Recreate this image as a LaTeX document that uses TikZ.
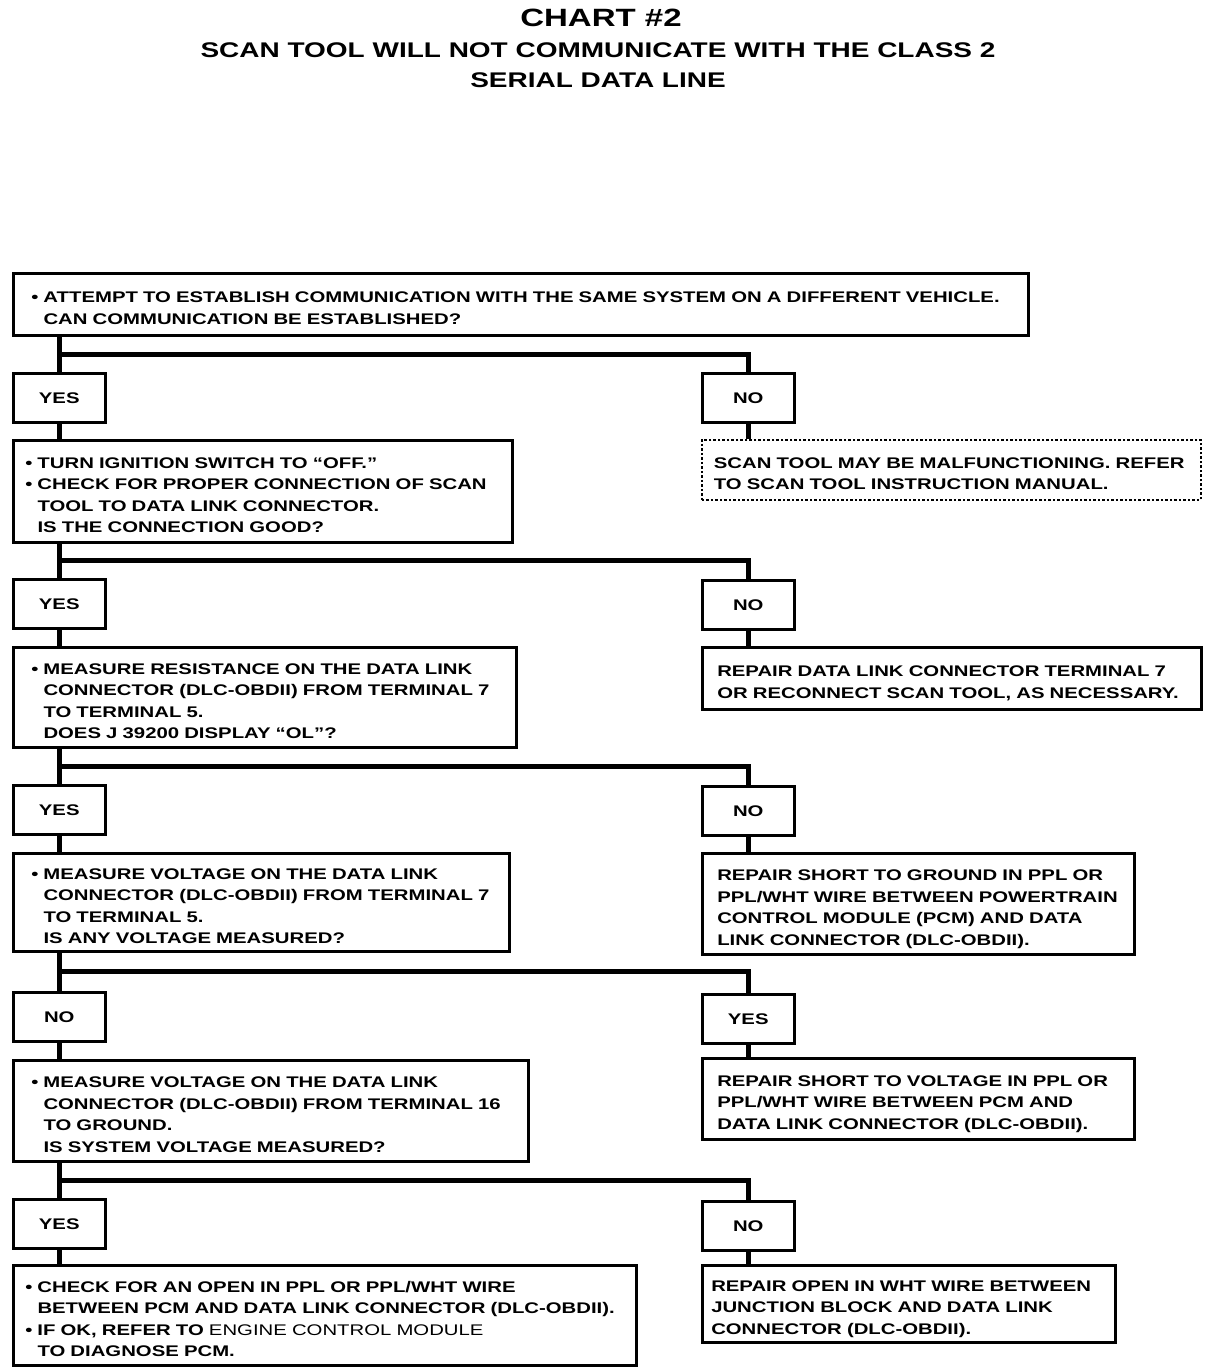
\documentclass[tikz,border=0pt]{standalone}
\usepackage{fontspec}
\usetikzlibrary{calc}
\newfontfamily\chartfont[FakeStretch=1.32]{Liberation Sans}
\newcommand\bul{\textbullet\ }
\newcommand\ind{\hphantom{\bul}}
\tikzset{
	box/.style={draw, line width=1.25pt, anchor=north west, align=left, inner ysep=0pt,
		font=\chartfont\bfseries\fontsize{7.7}{10.75}\selectfont,
		execute at begin node={\rule{0pt}{11pt}}, execute at end node={\rule[-2pt]{0pt}{2pt}}},
	boxsize/.style n args={3}{text width={(#1-2*#3)*0.5pt}, inner xsep={#3*0.5pt}, minimum height={#2*0.5pt}},
	answer/.style={draw, line width=1.25pt, anchor=north west, minimum width=46pt, minimum height=24.5pt,
		inner sep=0pt, font=\chartfont\bfseries\fontsize{7.7}{10.75}\selectfont},
	heading/.style={font=\chartfont\bfseries\fontsize{10.6}{12}\selectfont},
	link/.style={line width=2.4pt},
}
\begin{document}
\begin{tikzpicture}[x=0.5pt, y=-0.5pt]
			%%%%% START %%%%%
			\useasboundingbox (0, 0) rectangle (1216, 1372);
			
			\node[font=\chartfont\bfseries\fontsize{12.5}{14}\selectfont] (title) at (601, 18) {CHART \#2};
			\node[heading] (sub1) at (598, 50) {SCAN TOOL WILL NOT COMMUNICATE WITH THE CLASS 2};
			\node[heading] (sub2) at (598, 80) {SERIAL DATA LINE};
			
			\node[box, boxsize={1015}{62}{18}] (q1) at (12, 272) {\bul ATTEMPT TO ESTABLISH COMMUNICATION WITH THE SAME SYSTEM ON A DIFFERENT VEHICLE.\\\ind CAN COMMUNICATION BE ESTABLISHED?};
			\node[answer] (y1) at (12, 372) {YES};
			\node[answer] (n1) at (701, 372) {NO};
			\node[box, boxsize={499}{60}{12}, densely dotted, line width=0.9pt] (r1) at (701, 439) {SCAN TOOL MAY BE MALFUNCTIONING. REFER\\TO SCAN TOOL INSTRUCTION MANUAL.};
			
			\node[box, boxsize={499}{102}{12}] (q2) at (12, 439) {\bul TURN IGNITION SWITCH TO “OFF.”\\\bul CHECK FOR PROPER CONNECTION OF SCAN\\\ind TOOL TO DATA LINK CONNECTOR.\\\ind IS THE CONNECTION GOOD?};
			\node[answer] (y2) at (12, 578) {YES};
			\node[answer] (n2) at (701, 579) {NO};
			\node[box, boxsize={499}{62}{15}] (r2) at (701, 646) {REPAIR DATA LINK CONNECTOR TERMINAL 7\\OR RECONNECT SCAN TOOL, AS NECESSARY.};
			
			\node[box, boxsize={503}{100}{18}] (q3) at (12, 646) {\bul MEASURE RESISTANCE ON THE DATA LINK\\\ind CONNECTOR (DLC-OBDII) FROM TERMINAL 7\\\ind TO TERMINAL 5.\\\ind DOES J 39200 DISPLAY “OL”?};
			\node[answer] (y3) at (12, 784) {YES};
			\node[answer] (n3) at (701, 785) {NO};
			\node[box, boxsize={432}{101}{15}] (r3) at (701, 852) {REPAIR SHORT TO GROUND IN PPL OR\\PPL/WHT WIRE BETWEEN POWERTRAIN\\CONTROL MODULE (PCM) AND DATA\\LINK CONNECTOR (DLC-OBDII).};
			
			\node[box, boxsize={496}{98}{18}] (q4) at (12, 852) {\bul MEASURE VOLTAGE ON THE DATA LINK\\\ind CONNECTOR (DLC-OBDII) FROM TERMINAL 7\\\ind TO TERMINAL 5.\\\ind IS ANY VOLTAGE MEASURED?};
			\node[answer] (n4) at (12, 991) {NO};
			\node[answer] (y4) at (701, 993) {YES};
			\node[box, boxsize={432}{81}{15}] (r4) at (701, 1057) {REPAIR SHORT TO VOLTAGE IN PPL OR\\PPL/WHT WIRE BETWEEN PCM AND\\DATA LINK CONNECTOR (DLC-OBDII).};
			
			\node[box, boxsize={515}{101}{18}] (q5) at (12, 1059) {\bul MEASURE VOLTAGE ON THE DATA LINK\\\ind CONNECTOR (DLC-OBDII) FROM TERMINAL 16\\\ind TO GROUND.\\\ind IS SYSTEM VOLTAGE MEASURED?};
			\node[answer] (y5) at (12, 1198) {YES};
			\node[answer] (n5) at (701, 1200) {NO};
			\node[box, boxsize={413}{77}{9}] (r5) at (701, 1264) {REPAIR OPEN IN WHT WIRE BETWEEN\\JUNCTION BLOCK AND DATA LINK\\CONNECTOR (DLC-OBDII).};
			
			\node[box, boxsize={623}{100}{12}] (q6) at (12, 1264) {\bul CHECK FOR AN OPEN IN PPL OR PPL/WHT WIRE\\\ind BETWEEN PCM AND DATA LINK CONNECTOR (DLC-OBDII).\\\bul IF OK, REFER TO {\mdseries ENGINE CONTROL MODULE}\\\ind TO DIAGNOSE PCM.};
			
			% branch lines
			\coordinate (j1) at ($(q1.south -| y1)!0.5!(y1.north)$);
			\draw[link] (q1.south -| y1) -- (y1.north);
			\draw[link] (j1) -| (n1.north);
			\draw[link] (y1.south) -- (q2.north -| y1);
			\draw[link] (n1.south) -- (r1.north -| n1);
			
			\coordinate (j2) at ($(q2.south -| y2)!0.5!(y2.north)$);
			\draw[link] (q2.south -| y2) -- (y2.north);
			\draw[link] (j2) -| (n2.north);
			\draw[link] (y2.south) -- (q3.north -| y2);
			\draw[link] (n2.south) -- (r2.north -| n2);
			
			\coordinate (j3) at ($(q3.south -| y3)!0.5!(y3.north)$);
			\draw[link] (q3.south -| y3) -- (y3.north);
			\draw[link] (j3) -| (n3.north);
			\draw[link] (y3.south) -- (q4.north -| y3);
			\draw[link] (n3.south) -- (r3.north -| n3);
			
			\coordinate (j4) at ($(q4.south -| n4)!0.5!(n4.north)$);
			\draw[link] (q4.south -| n4) -- (n4.north);
			\draw[link] (j4) -| (y4.north);
			\draw[link] (n4.south) -- (q5.north -| n4);
			\draw[link] (y4.south) -- (r4.north -| y4);
			
			\coordinate (j5) at ($(q5.south -| y5)!0.5!(y5.north)$);
			\draw[link] (q5.south -| y5) -- (y5.north);
			\draw[link] (j5) -| (n5.north);
			\draw[link] (y5.south) -- (q6.north -| y5);
			\draw[link] (n5.south) -- (r5.north -| n5);
			%%%%% END %%%%%
\end{tikzpicture}
\end{document}
